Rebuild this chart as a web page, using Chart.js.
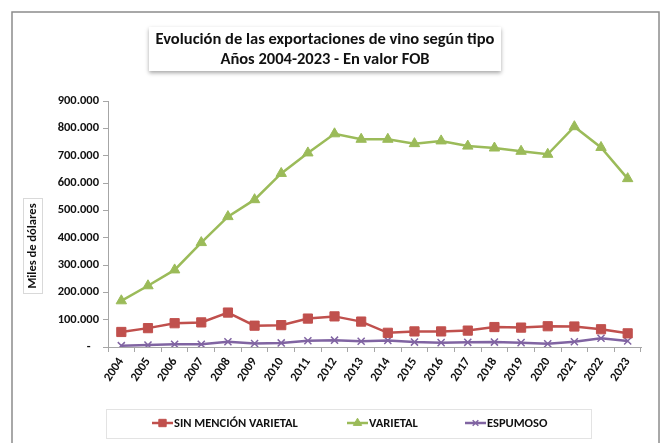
<!DOCTYPE html>
<html>
<head>
<meta charset="utf-8">
<script src="https://cdn.jsdelivr.net/npm/chart.js@4"></script>
<style>
  html, body { margin: 0; padding: 0; background: #fff; }
  #wrap { width: 663px; height: 443px; position: relative; }
</style>
</head>
<body>
<div id="wrap"><canvas id="chart" width="663" height="443"></canvas></div>
<script>
const years = ['2004','2005','2006','2007','2008','2009','2010','2011','2012','2013',
               '2014','2015','2016','2017','2018','2019','2020','2021','2022','2023'];
// miles de dólares FOB
const sinMencion = [55000, 69000, 87000, 90000, 126000, 78000, 80000, 104000, 112000, 93000,
                    52000, 57000, 57000, 60000, 73000, 71000, 76000, 75000, 65000, 50000];
const varietal = [169000, 224000, 282000, 382000, 477000, 539000, 635000, 710000, 780000, 760000,
                  760000, 744000, 754000, 735000, 728000, 716000, 705000, 806000, 730000, 616000];
const espumoso = [5000, 7000, 10000, 10000, 19000, 13000, 15000, 23000, 25000, 21000,
                  24000, 18000, 16000, 17000, 18000, 16000, 12000, 19000, 32000, 22000];

const titleLines = ['Evolución de las exportaciones de vino según tipo', 'Años 2004-2023 - En valor FOB'];
const yTitle = 'Miles de dólares';

const FONT = 'Carlito, Lato, "Open Sans", sans-serif';
const RED = '#C0504D', GREEN = '#9BBB59', PURPLE = '#8064A2';

function fmt(v) {
  if (v === 0) return '-   ';
  return String(v).replace(/\B(?=(\d{3})+(?!\d))/g, '.');
}

// frame, title box, y title box and legend drawn around the chart
const decor = {
  id: 'decor',
  beforeDraw(chart) {
    const ctx = chart.ctx;
    ctx.save();
    ctx.fillStyle = '#fff';
    ctx.fillRect(0, 0, chart.width, chart.height);
    ctx.strokeStyle = '#8c8c8c';
    ctx.lineWidth = 1.5;
    ctx.strokeRect(12, 12, 647, 460);
    ctx.restore();
  },
  afterDraw(chart) {
    const ctx = chart.ctx;
    ctx.save();
    // title box with shadow
    ctx.shadowColor = 'rgba(0,0,0,0.35)';
    ctx.shadowBlur = 4;
    ctx.shadowOffsetY = 2;
    ctx.fillStyle = '#fff';
    ctx.fillRect(149, 27, 352, 44);
    ctx.shadowColor = 'transparent';
    ctx.fillStyle = '#111';
    ctx.font = 'bold 16.5px ' + FONT;
    ctx.textAlign = 'center';
    ctx.textBaseline = 'middle';
    ctx.fillText(titleLines[0], 325, 40);
    ctx.fillText(titleLines[1], 325, 60);

    // y axis title box
    ctx.strokeStyle = '#d9d9d9';
    ctx.lineWidth = 1;
    ctx.strokeRect(23.5, 198.5, 19, 95);
    ctx.save();
    ctx.translate(33, 246);
    ctx.rotate(-Math.PI / 2);
    ctx.font = 'bold 12.5px ' + FONT;
    ctx.fillStyle = '#111';
    ctx.fillText(yTitle, 0, 0);
    ctx.restore();

    // legend
    ctx.strokeStyle = '#e3e3e3';
    ctx.strokeRect(106.5, 409.5, 485, 29);
    const items = [
      { ds: 0, x: 152 },
      { ds: 1, x: 347 },
      { ds: 2, x: 465 }
    ];
    const ly = 423;
    ctx.font = 'bold 12.5px ' + FONT;
    ctx.textAlign = 'left';
    ctx.textBaseline = 'middle';
    items.forEach(it => {
      const ds = chart.data.datasets[it.ds];
      ctx.strokeStyle = ds.borderColor;
      ctx.fillStyle = ds.borderColor;
      ctx.lineWidth = 2.5;
      ctx.beginPath();
      ctx.moveTo(it.x, ly);
      ctx.lineTo(it.x + 21, ly);
      ctx.stroke();
      ctx.lineWidth = ds.pointBorderWidth;
      Chart.helpers.drawPoint(ctx, {
        pointStyle: ds.pointStyle,
        radius: ds.pointRadius * 0.8,
        borderWidth: ds.pointBorderWidth
      }, it.x + 10.5, ly);
      ctx.fillStyle = '#111';
      ctx.fillText(ds.label, it.x + 22, ly + 0.5);
    });
    ctx.restore();
  }
};

function series(label, data, color, style, radius, bw) {
  return {
    label, data,
    borderColor: color,
    backgroundColor: color,
    borderWidth: 2.5,
    pointStyle: style,
    pointRadius: radius,
    pointHoverRadius: radius,
    pointBackgroundColor: color,
    pointBorderColor: color,
    pointBorderWidth: bw,
    tension: 0
  };
}

new Chart(document.getElementById('chart'), {
  type: 'line',
  data: {
    labels: years,
    datasets: [
      series('SIN MENCIÓN VARIETAL', sinMencion, RED, 'rect', 6.5, 1),
      series('VARIETAL', varietal, GREEN, 'triangle', 6, 1),
      series('ESPUMOSO', espumoso, PURPLE, 'crossRot', 5, 1.5)
    ]
  },
  options: {
    responsive: false,
    animation: false,
    devicePixelRatio: 1,
    layout: { padding: { top: 101, right: 22, left: 0, bottom: 0 } },
    plugins: {
      legend: { display: false },
      title: { display: false },
      tooltip: { enabled: false }
    },
    scales: {
      x: {
        offset: true,
        afterFit(scale) { scale.height = 96; },
        grid: {
          display: true, drawOnChartArea: false, offset: true,
          tickLength: 5, color: '#a6a6a6'
        },
        border: { color: '#a6a6a6', width: 1 },
        ticks: {
          autoSkip: false, minRotation: 56, maxRotation: 56, padding: 3,
          color: '#111', font: { family: FONT, size: 12.5, weight: 'bold' }
        }
      },
      y: {
        min: 0, max: 900000,
        afterFit(scale) { scale.width = 108; },
        grid: { display: true, drawOnChartArea: false, tickLength: 5, color: '#a6a6a6' },
        border: { color: '#a6a6a6', width: 1 },
        ticks: {
          stepSize: 100000, padding: 4, color: '#111',
          font: { family: FONT, size: 12.5, weight: 'bold' },
          callback: v => fmt(v)
        }
      }
    }
  },
  plugins: [decor]
});
</script>
</body>
</html>
